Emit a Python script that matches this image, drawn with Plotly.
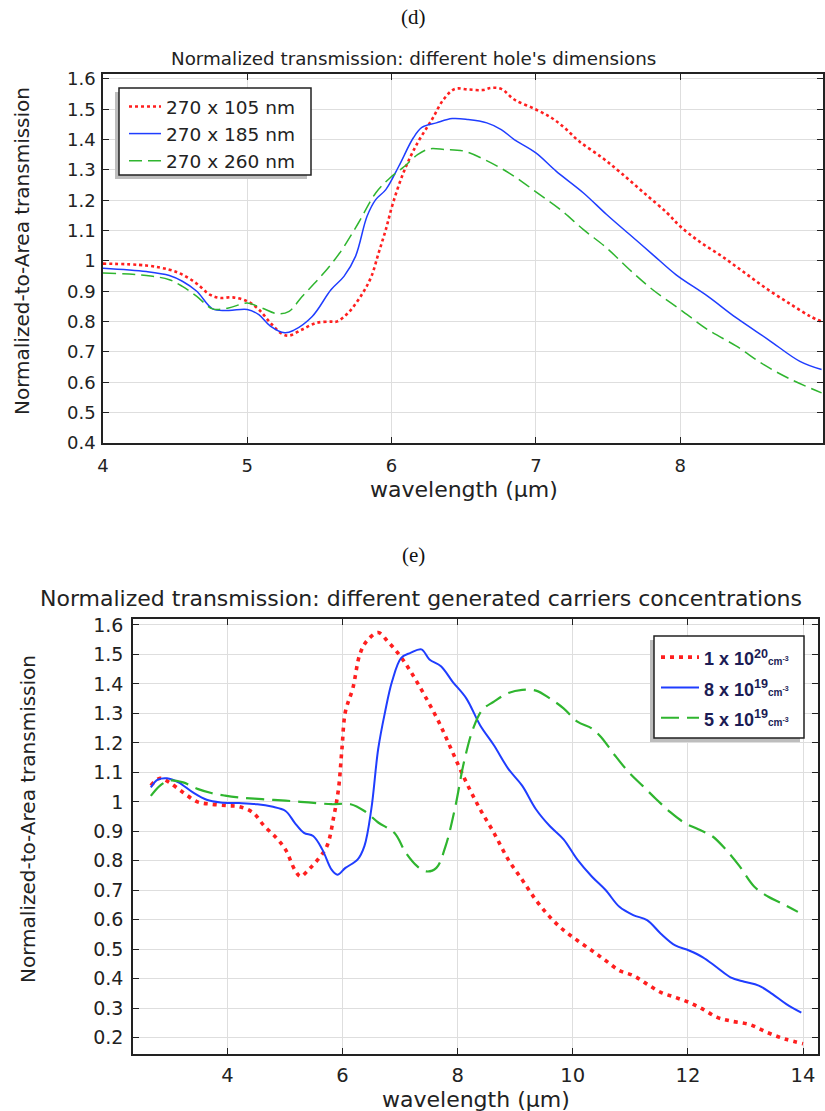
import plotly.graph_objects as go

# ---------------- data: panel (d) ----------------
d_names = ["270 x 105 nm", "270 x 185 nm", "270 x 260 nm"]
d_x_red = [4.0, 4.3, 4.46, 4.55, 4.65, 4.74, 4.81, 4.90, 5.0, 5.08, 5.16, 5.24, 5.29, 5.38, 5.48, 5.58, 5.62,
           5.70, 5.80, 5.86, 5.91, 5.96, 6.01, 6.09, 6.18, 6.28, 6.36, 6.44, 6.53, 6.63, 6.69, 6.76, 6.85, 7.0,
           7.11, 7.20, 7.30, 7.46, 7.59, 7.75, 7.91, 8.0, 8.13, 8.29, 8.45, 8.61, 8.77, 8.90, 8.98]
d_y_red = [0.991, 0.985, 0.971, 0.955, 0.925, 0.889, 0.878, 0.88, 0.867, 0.84, 0.796, 0.76, 0.754, 0.774, 0.796,
           0.80, 0.80, 0.829, 0.894, 0.949, 1.026, 1.103, 1.191, 1.30, 1.389, 1.466, 1.532, 1.567, 1.565, 1.563,
           1.57, 1.567, 1.532, 1.499, 1.471, 1.438, 1.394, 1.34, 1.29, 1.224, 1.158, 1.114, 1.065, 1.015, 0.96,
           0.905, 0.856, 0.818, 0.80]
d_x_blue = [4.0, 4.3, 4.46, 4.55, 4.65, 4.76, 4.87, 5.0, 5.08, 5.16, 5.26, 5.32, 5.45, 5.58, 5.67, 5.75, 5.83,
            5.89, 5.96, 6.05, 6.15, 6.21, 6.31, 6.42, 6.53, 6.66, 6.76, 6.85, 7.0, 7.14, 7.33, 7.49, 7.65, 7.81,
            7.97, 8.19, 8.39, 8.61, 8.83, 8.98]
d_y_blue = [0.976, 0.965, 0.952, 0.933, 0.90, 0.842, 0.837, 0.84, 0.823, 0.785, 0.763, 0.771, 0.817, 0.905,
            0.949, 1.015, 1.147, 1.202, 1.235, 1.312, 1.405, 1.440, 1.455, 1.469, 1.466, 1.455, 1.433, 1.40,
            1.356, 1.296, 1.224, 1.153, 1.087, 1.021, 0.955, 0.884, 0.812, 0.741, 0.669, 0.642]
d_x_green = [4.0, 4.3, 4.46, 4.55, 4.65, 4.76, 4.87, 5.0, 5.10, 5.21, 5.29, 5.38, 5.51, 5.64, 5.77, 5.89, 5.99,
             6.09, 6.18, 6.26, 6.37, 6.50, 6.69, 6.85, 7.01, 7.17, 7.33, 7.49, 7.65, 7.81, 8.0, 8.19, 8.39, 8.58,
             8.77, 8.98]
d_y_green = [0.96, 0.952, 0.938, 0.916, 0.883, 0.842, 0.845, 0.861, 0.845, 0.826, 0.834, 0.883, 0.949, 1.026,
             1.125, 1.224, 1.274, 1.312, 1.35, 1.369, 1.367, 1.362, 1.323, 1.279, 1.224, 1.169, 1.103, 1.043,
             0.971, 0.905, 0.84, 0.774, 0.719, 0.658, 0.609, 0.565]
d_xticks = [4, 5, 6, 7, 8]
d_yticks = [0.4, 0.5, 0.6, 0.7, 0.8, 0.9, 1.0, 1.1, 1.2, 1.3, 1.4, 1.5, 1.6]
d_yticktext = ["0.4", "0.5", "0.6", "0.7", "0.8", "0.9", "1", "1.1", "1.2", "1.3", "1.4", "1.5", "1.6"]

# ---------------- data: panel (e) ----------------
e_names = ["1 x 10<sup>20</sup>", "8 x 10<sup>19</sup>", "5 x 10<sup>19</sup>"]
e_unit = "cm<sup>-3</sup>"
e_x_red = [2.67, 2.83, 2.99, 3.23, 3.48, 3.72, 4.0, 4.20, 4.44, 4.64, 4.85, 5.01, 5.17, 5.27, 5.41, 5.57, 5.73,
           5.85, 5.93, 5.99, 6.05, 6.18, 6.30, 6.42, 6.62, 6.78, 6.98, 7.18, 7.42, 7.67, 7.91, 8.15, 8.39, 8.63,
           8.88, 9.12, 9.36, 9.60, 9.84, 10.08, 10.33, 10.57, 10.81, 11.05, 11.29, 11.53, 11.78, 12.02, 12.26,
           12.50, 12.74, 13.07, 13.39, 13.7, 14.0]
e_y_red = [1.055, 1.08, 1.066, 1.032, 1.0, 0.992, 0.987, 0.984, 0.964, 0.918, 0.878, 0.838, 0.77, 0.747, 0.77,
           0.804, 0.85, 0.952, 1.044, 1.18, 1.306, 1.386, 1.50, 1.545, 1.574, 1.545, 1.50, 1.443, 1.363, 1.272,
           1.169, 1.066, 0.975, 0.895, 0.804, 0.736, 0.667, 0.61, 0.565, 0.53, 0.496, 0.462, 0.428, 0.411, 0.382,
           0.354, 0.337, 0.32, 0.297, 0.27, 0.257, 0.245, 0.217, 0.195, 0.18]
e_x_blue = [2.67, 2.79, 2.95, 3.15, 3.40, 3.64, 3.88, 4.20, 4.52, 4.77, 5.01, 5.17, 5.33, 5.49, 5.65, 5.81,
            5.91, 6.05, 6.26, 6.38, 6.50, 6.62, 6.74, 6.86, 7.02, 7.18, 7.37, 7.51, 7.71, 7.91, 8.15, 8.39, 8.63,
            8.88, 9.12, 9.36, 9.60, 9.84, 10.08, 10.33, 10.57, 10.81, 11.05, 11.29, 11.53, 11.78, 12.02, 12.26,
            12.50, 12.74, 12.98, 13.23, 13.47, 13.71, 13.97]
e_y_blue = [1.049, 1.075, 1.08, 1.066, 1.032, 1.007, 0.998, 0.996, 0.992, 0.984, 0.969, 0.929, 0.895, 0.884,
            0.838, 0.77, 0.753, 0.776, 0.804, 0.85, 0.975, 1.18, 1.306, 1.408, 1.488, 1.505, 1.517, 1.483, 1.46,
            1.408, 1.351, 1.26, 1.192, 1.112, 1.055, 0.975, 0.918, 0.873, 0.804, 0.747, 0.701, 0.644, 0.616,
            0.599, 0.553, 0.513, 0.496, 0.473, 0.439, 0.405, 0.39, 0.377, 0.348, 0.314, 0.285]
e_x_green = [2.67, 2.83, 2.99, 3.23, 3.48, 3.72, 3.96, 4.20, 4.60, 5.01, 5.41, 5.81, 6.14, 6.38, 6.62, 6.90,
             7.10, 7.30, 7.46, 7.63, 7.79, 7.95, 8.11, 8.27, 8.43, 8.63, 8.88, 9.12, 9.36, 9.60, 9.84, 10.08,
             10.33, 10.49, 10.73, 10.97, 11.21, 11.45, 11.70, 11.94, 12.18, 12.42, 12.66, 12.90, 13.15, 13.39,
             13.63, 13.91]
e_y_green = [1.02, 1.055, 1.072, 1.066, 1.044, 1.03, 1.021, 1.015, 1.009, 1.004, 0.998, 0.992, 0.992, 0.969,
             0.93, 0.895, 0.827, 0.781, 0.764, 0.776, 0.85, 0.975, 1.135, 1.249, 1.312, 1.34, 1.369, 1.38, 1.377,
             1.351, 1.317, 1.272, 1.249, 1.22, 1.158, 1.101, 1.055, 1.009, 0.964, 0.929, 0.907, 0.884, 0.838,
             0.781, 0.713, 0.679, 0.656, 0.627]
e_xticks = [4, 6, 8, 10, 12, 14]
e_yticks = [0.2, 0.3, 0.4, 0.5, 0.6, 0.7, 0.8, 0.9, 1.0, 1.1, 1.2, 1.3, 1.4, 1.5, 1.6]
e_yticktext = ["0.2", "0.3", "0.4", "0.5", "0.6", "0.7", "0.8", "0.9", "1", "1.1", "1.2", "1.3", "1.4", "1.5", "1.6"]

RED, BLUE, GREEN = "#ff1f1f", "#1f3dff", "#2fb52f"
INK = "#222222"
W, H = 825, 1111


def fx(v):
    return v / W


def fy(v):
    return 1 - v / H


def e_label(n):
    return ("<span style='font-size:18px'><b>" + n + "</b></span>"
            "<span style='font-size:10px'><b>" + e_unit + "</b></span>")


fig = go.Figure()
# panel (d)
fig.add_trace(go.Scatter(x=d_x_red, y=d_y_red, name=d_names[0], mode="lines", line_shape="spline",
                         line=dict(color=RED, width=2.6, dash="dot"), xaxis="x", yaxis="y", legend="legend"))
fig.add_trace(go.Scatter(x=d_x_blue, y=d_y_blue, name=d_names[1], mode="lines", line_shape="spline",
                         line=dict(color=BLUE, width=1.5), xaxis="x", yaxis="y", legend="legend"))
fig.add_trace(go.Scatter(x=d_x_green, y=d_y_green, name=d_names[2], mode="lines", line_shape="spline",
                         line=dict(color=GREEN, width=1.5, dash="13px,6px"), xaxis="x", yaxis="y", legend="legend"))
# panel (e)
fig.add_trace(go.Scatter(x=e_x_red, y=e_y_red, name=e_label(e_names[0]), mode="lines", line_shape="spline",
                         line=dict(color=RED, width=3.6, dash="4px,5px"), xaxis="x2", yaxis="y2", legend="legend2"))
fig.add_trace(go.Scatter(x=e_x_blue, y=e_y_blue, name=e_label(e_names[1]), mode="lines", line_shape="spline",
                         line=dict(color=BLUE, width=2), xaxis="x2", yaxis="y2", legend="legend2"))
fig.add_trace(go.Scatter(x=e_x_green, y=e_y_green, name=e_label(e_names[2]), mode="lines", line_shape="spline",
                         line=dict(color=GREEN, width=2.2, dash="18px,8px"), xaxis="x2", yaxis="y2",
                         legend="legend2"))

axis_common = dict(showline=True, linecolor=INK, linewidth=1.5, mirror="ticks", ticks="inside",
                   ticklen=6, tickcolor=INK, showgrid=True, gridcolor="#dedede", gridwidth=1,
                   zeroline=False, automargin=False)

fig.update_layout(
    width=W, height=H, margin=dict(l=0, r=0, t=0, b=0, pad=0, autoexpand=False),
    paper_bgcolor="white", plot_bgcolor="white", showlegend=True,
    xaxis=dict(axis_common, domain=[fx(103), fx(823)], range=[4, 8.99], tickvals=d_xticks,
               anchor="y", ticklabelstandoff=6, tickfont=dict(family="DejaVu Sans", size=18, color=INK)),
    yaxis=dict(axis_common, domain=[fy(443), fy(74)], range=[0.4, 1.616], tickvals=d_yticks,
               ticktext=d_yticktext, anchor="x", ticklabelstandoff=2,
               tickfont=dict(family="DejaVu Sans", size=18, color=INK)),
    xaxis2=dict(axis_common, domain=[fx(133), fx(818)], range=[2.36, 14.26], tickvals=e_xticks,
                anchor="y2", ticklabelstandoff=3, tickfont=dict(family="DejaVu Sans", size=19.5, color=INK)),
    yaxis2=dict(axis_common, domain=[fy(1054), fy(619)], range=[0.145, 1.62], tickvals=e_yticks,
                ticktext=e_yticktext, anchor="x2", ticklabelstandoff=4,
                tickfont=dict(family="DejaVu Sans", size=19, color=INK)),
    legend=dict(x=fx(124), y=fy(88), xanchor="left", yanchor="top", bgcolor="rgba(0,0,0,0)",
                borderwidth=0, font=dict(family="DejaVu Sans", size=18.5, color=INK), itemwidth=32),
    legend2=dict(x=fx(656), y=fy(637), xanchor="left", yanchor="top", bgcolor="rgba(0,0,0,0)",
                 borderwidth=0, font=dict(family="Liberation Sans", size=21, color="#1c1c55"), itemwidth=38),
)

annots = [
    dict(text="(d)", x=fx(413), y=fy(17), font=dict(family="Liberation Serif", size=21, color="#111")),
    dict(text="Normalized transmission: different hole's dimensions", x=fx(413), y=fy(58),
         font=dict(family="DejaVu Sans", size=18.3, color=INK)),
    dict(text="wavelength (µm)", x=fx(464), y=fy(489), font=dict(family="DejaVu Sans", size=22, color=INK)),
    dict(text="Normalized-to-Area transmission", x=fx(22), y=fy(251), textangle=-90,
         font=dict(family="DejaVu Sans", size=20, color=INK)),
    dict(text="(e)", x=fx(413), y=fy(555), font=dict(family="Liberation Serif", size=21, color="#111")),
    dict(text="Normalized transmission: different generated carriers concentrations", x=fx(421),
         y=fy(598), font=dict(family="DejaVu Sans", size=22, color=INK)),
    dict(text="wavelength (µm)", x=fx(476), y=fy(1099), font=dict(family="DejaVu Sans", size=22, color=INK)),
    dict(text="Normalized-to-Area transmission", x=fx(28), y=fy(819), textangle=-90,
         font=dict(family="DejaVu Sans", size=20, color=INK)),
]
for a in annots:
    fig.add_annotation(xref="paper", yref="paper", showarrow=False, xanchor="center", yanchor="middle", **a)

# legend boxes with drop shadows (drawn as paper shapes, legend itself transparent)
boxes = [(119, 311, 88, 175), (654, 804, 636, 738)]
for (x0, x1, y0, y1) in boxes:
    fig.add_shape(type="rect", xref="paper", yref="paper", x0=fx(x0 - 4), x1=fx(x1 - 4), y0=fy(y1 + 4),
                  y1=fy(y0 + 4), fillcolor="#bdbdbd", line=dict(width=0), layer="above")
    fig.add_shape(type="rect", xref="paper", yref="paper", x0=fx(x0), x1=fx(x1), y0=fy(y1), y1=fy(y0),
                  fillcolor="white", line=dict(color=INK, width=1.5), layer="above")

fig.write_html("out.html")
